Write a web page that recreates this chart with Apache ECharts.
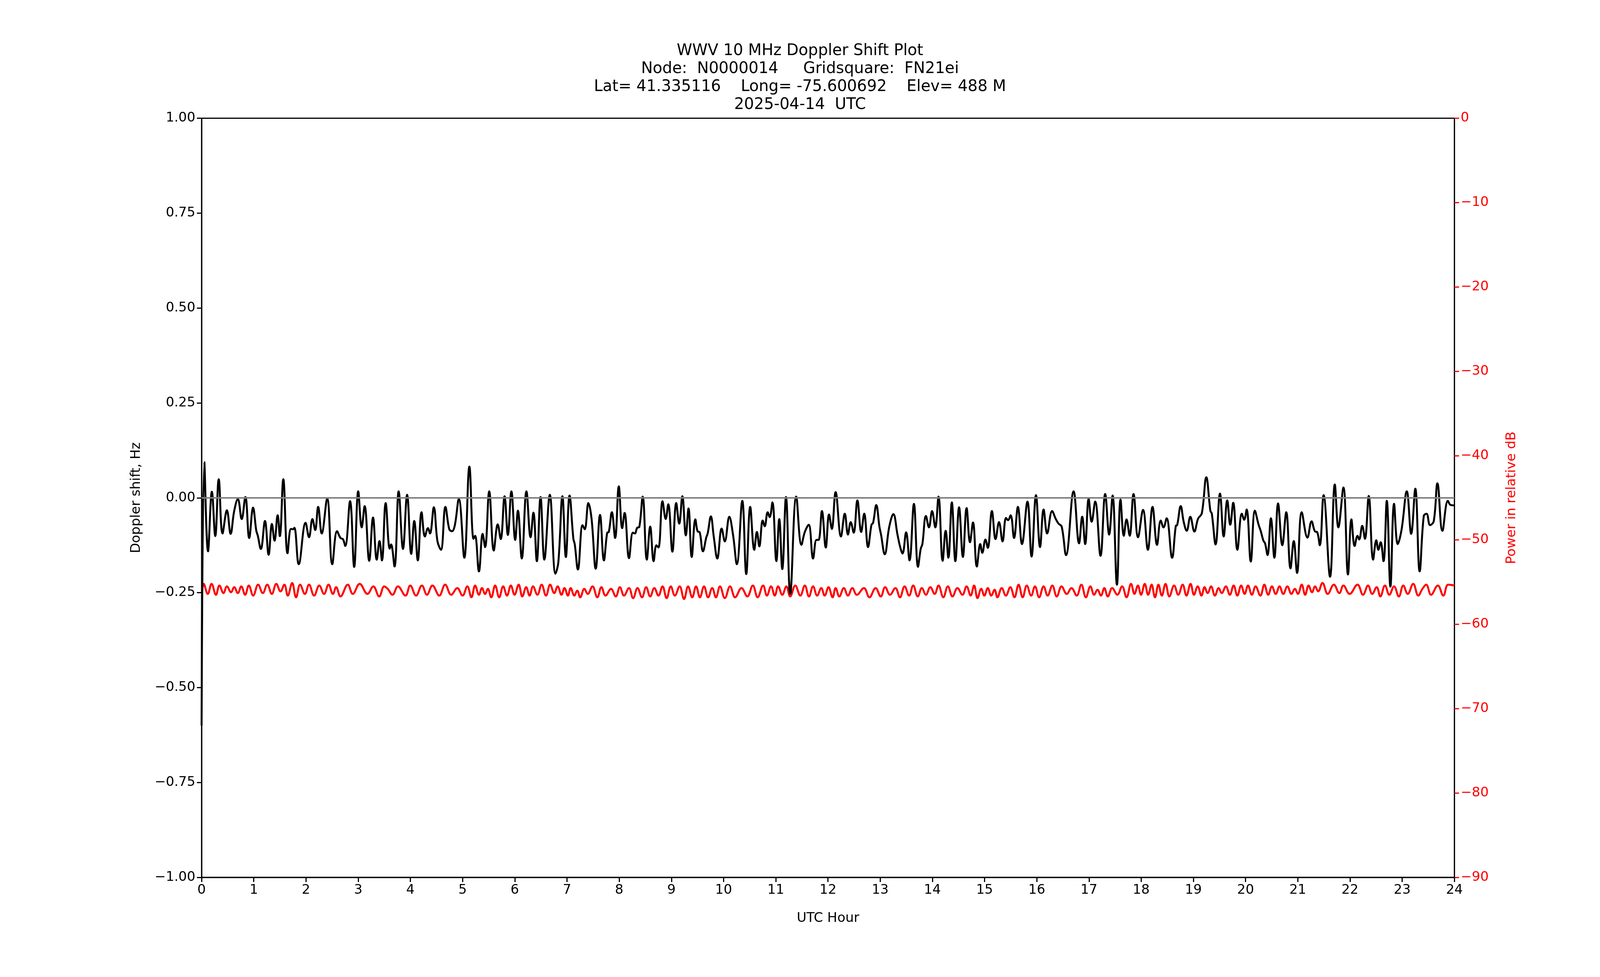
<!DOCTYPE html>
<html>
<head>
<meta charset="utf-8">
<script src="https://cdn.jsdelivr.net/npm/echarts@6/dist/echarts.min.js"></script>
<style>
  html, body { margin: 0; padding: 0; background: #fff; overflow: hidden; }
  #main { width: 100vw; height: 100vh; }
</style>
</head>
<body>
<div id="main"></div>
<script>
// title lines
const titleLines = [
    'WWV 10 MHz Doppler Shift Plot',
    'Node:  N0000014     Gridsquare:  FN21ei',
    'Lat= 41.335116    Long= -75.600692    Elev= 488 M',
    '2025-04-14  UTC'
];

// UTC hour / Doppler shift (Hz)
const dopplerPoints = [
    [0,-0.60],[0.052,0.094],[0.123,-0.141],[0.197,0.016],[0.262,-0.101],[0.328,0.049],[0.401,-0.094],[0.485,-0.033],
    [0.556,-0.095],[0.624,-0.035],[0.695,-0.003],[0.768,-0.056],[0.839,0.002],[0.912,-0.106],[0.986,-0.026],[1.048,-0.087],
    [1.075,-0.099],[1.135,-0.135],[1.214,-0.061],[1.284,-0.150],[1.347,-0.069],[1.397,-0.113],[1.457,-0.046],[1.499,-0.101],
    [1.565,0.049],[1.646,-0.146],[1.712,-0.082],[1.751,-0.083],[1.777,-0.079],[1.861,-0.175],[1.992,-0.066],[2.058,-0.104],
    [2.123,-0.056],[2.176,-0.085],[2.233,-0.024],[2.301,-0.094],[2.406,-0.002],[2.503,-0.175],[2.595,-0.088],[2.661,-0.106],
    [2.708,-0.109],[2.752,-0.127],[2.844,-0.009],[2.923,-0.182],[3.001,0.017],[3.067,-0.078],[3.124,-0.022],[3.211,-0.166],
    [3.284,-0.052],[3.355,-0.163],[3.408,-0.114],[3.455,-0.165],[3.526,-0.014],[3.604,-0.134],[3.630,-0.123],[3.696,-0.181],
    [3.775,0.017],[3.858,-0.135],[3.937,0.008],[4.016,-0.148],
    [4.074,-0.061],[4.142,-0.165],[4.213,-0.038],[4.278,-0.102],[4.336,-0.080],[4.375,-0.094],[4.449,-0.025],[4.519,-0.115],
    [4.585,-0.137],[4.671,-0.024],[4.745,-0.083],[4.797,-0.088],[4.850,-0.073],[4.928,-0.003],[5.033,-0.158],[5.130,0.082],
    [5.209,-0.108],[5.240,-0.100],[5.313,-0.194],[5.384,-0.095],[5.431,-0.130],[5.510,0.017],[5.597,-0.139],[5.673,-0.070],
    [5.730,-0.109],[5.804,0.004],[5.867,-0.098],[5.935,0.017],[6.008,-0.111],[6.060,-0.034],[6.134,-0.160],[6.223,0.017],
    [6.302,-0.104],[6.357,-0.039],[6.422,-0.167],[6.493,0.002],[6.566,-0.163],[6.671,0.008],[6.779,-0.200],[6.834,-0.170],
    [6.912,0.004],[6.978,-0.156],[7.049,0.006],[7.122,-0.108],[7.148,-0.122],[7.209,-0.189],[7.298,-0.072],[7.340,-0.083],
    [7.410,-0.014],[7.471,-0.056],[7.550,-0.187],[7.633,-0.045],[7.707,-0.165],[7.770,-0.092],[7.801,-0.090],[7.859,-0.038],
    [7.922,-0.106],[7.992,0.030],[8.057,-0.080],
    [8.104,-0.040],[8.188,-0.159],[8.261,-0.092],[8.298,-0.094],[8.345,-0.079],[8.385,-0.077],[8.450,0.003],[8.529,-0.163],
    [8.594,-0.076],[8.660,-0.167],[8.712,-0.125],[8.752,-0.131],[8.830,-0.009],[8.891,-0.056],[8.940,-0.017],[9.019,-0.142],
    [9.092,-0.014],[9.150,-0.068],[9.210,0.004],[9.276,-0.099],[9.328,-0.028],[9.389,-0.156],[9.459,-0.057],[9.504,-0.089],
    [9.538,-0.090],[9.604,-0.141],[9.669,-0.104],[9.695,-0.094],[9.756,-0.049],[9.813,-0.104],[9.879,-0.160],[9.963,-0.081],
    [10.023,-0.115],[10.109,-0.050],[10.180,-0.097],[10.254,-0.175],[10.358,-0.008],[10.434,-0.201],[10.510,-0.024],[10.587,-0.137],
    [10.639,-0.090],[10.684,-0.128],[10.749,-0.060],[10.788,-0.075],[10.844,-0.038],[10.883,-0.051],[10.935,-0.012],[11.011,-0.167],
    [11.066,-0.056],[11.124,-0.188],[11.195,0.002],[11.276,-0.253],[11.391,0.003],[11.491,-0.124],[11.556,-0.090],[11.630,-0.071],
    [11.714,-0.160],[11.779,-0.111],[11.819,-0.111],[11.884,-0.035],[11.957,-0.131],[12.020,-0.044],[12.073,-0.082],
    [12.146,0.015],[12.248,-0.102],[12.322,-0.042],[12.382,-0.097],[12.435,-0.064],[12.492,-0.092],[12.563,-0.007],[12.636,-0.090],
    [12.694,-0.042],[12.767,-0.130],[12.833,-0.071],[12.864,-0.066],[12.925,-0.019],[12.985,-0.076],[13.016,-0.097],[13.087,-0.149],
    [13.174,-0.076],[13.252,-0.043],[13.331,-0.097],[13.383,-0.130],[13.428,-0.147],[13.496,-0.091],[13.562,-0.165],[13.646,-0.016],
    [13.724,-0.182],[13.777,-0.134],[13.808,-0.122],[13.876,-0.048],[13.934,-0.078],[13.994,-0.035],[14.055,-0.078],[14.117,0.003],
    [14.196,-0.166],[14.254,-0.087],[14.306,-0.158],[14.372,-0.012],[14.440,-0.167],[14.511,-0.025],[14.584,-0.156],[14.655,-0.027],
    [14.720,-0.117],[14.778,-0.065],[14.851,-0.181],[14.917,-0.122],[14.956,-0.145],[15.016,-0.110],[15.061,-0.132],[15.140,-0.035],
    [15.210,-0.109],[15.276,-0.064],[15.344,-0.115],[15.410,-0.053],[15.449,-0.059],[15.499,-0.046],[15.564,-0.106],[15.638,-0.024],
    [15.716,-0.122],[15.821,-0.010],[15.900,-0.155],[15.984,0.007],[16.062,-0.130],[16.130,-0.031],
    [16.199,-0.094],[16.293,-0.035],[16.364,-0.056],[16.416,-0.068],[16.477,-0.076],[16.560,-0.151],[16.705,0.017],[16.809,-0.120],
    [16.870,-0.050],[16.927,-0.122],[16.993,-0.003],[17.051,-0.063],[17.119,-0.010],[17.221,-0.153],[17.310,0.010],[17.386,-0.097],
    [17.452,0.006],[17.535,-0.229],[17.604,-0.005],[17.667,-0.100],[17.719,-0.057],[17.779,-0.100],[17.853,0.010],[17.939,-0.104],
    [18.036,-0.032],[18.128,-0.137],[18.217,-0.024],[18.303,-0.124],[18.374,-0.060],[18.427,-0.078],[18.487,-0.054],[18.592,-0.158],
    [18.663,-0.074],[18.689,-0.072],[18.757,-0.022],[18.815,-0.064],[18.872,-0.087],[18.941,-0.050],[19.019,-0.089],[19.090,-0.055],
    [19.161,-0.041],[19.247,0.054],[19.326,-0.035],[19.352,-0.041],[19.425,-0.123],[19.509,0.011],[19.580,-0.102],[19.648,-0.007],
    [19.706,-0.071],[19.763,-0.013],[19.842,-0.137],[19.928,-0.042],[19.973,-0.058],[20.020,-0.031],[20.099,-0.168],[20.178,-0.034],
    [20.249,-0.071],[20.289,-0.087],[20.341,-0.113],[20.373,-0.120],[20.420,-0.151],[20.485,-0.054],[20.551,-0.158],[20.622,-0.015],
    [20.703,-0.125],[20.779,-0.038],[20.860,-0.186],[20.923,-0.114],[20.986,-0.198],[21.075,-0.038],[21.185,-0.105],[21.264,-0.062],
    [21.332,-0.089],[21.369,-0.090],[21.421,-0.125],[21.494,0.007],[21.618,-0.208],[21.709,0.035],[21.777,-0.078],[21.874,0.027],
    [21.961,-0.202],[22.027,-0.057],[22.089,-0.127],[22.144,-0.100],[22.176,-0.110],[22.234,-0.074],[22.286,-0.108],[22.359,0.005],
    [22.443,-0.163],[22.504,-0.112],[22.543,-0.137],[22.587,-0.117],[22.642,-0.167],[22.705,-0.008],[22.774,-0.234],[22.844,-0.016],
    [22.915,-0.122],[22.989,-0.083],[23.088,0.017],[23.172,-0.095],[23.251,0.024],[23.334,-0.194],[23.413,-0.048],[23.466,-0.042],
    [23.534,-0.072],[23.604,-0.062],[23.675,0.038],[23.770,-0.087],[23.875,-0.008],[23.927,-0.019],[24.0,-0.020]
];

// UTC hour / power (relative dB)
const powerPoints = [
    [0.01,-56.1],[0.039,-55.2],[0.118,-56.4],[0.191,-55.2],[0.275,-56.5],[0.341,-55.4],[0.419,-56.3],[0.485,-55.5],[0.564,-56.2],
    [0.624,-55.6],[0.695,-56.3],[0.760,-55.5],[0.834,-56.5],[0.904,-55.4],[0.988,-56.6],[1.083,-55.3],[1.172,-56.3],[1.258,-55.3],
    [1.345,-56.4],[1.431,-55.2],[1.512,-56.1],[1.586,-55.3],[1.651,-56.6],[1.735,-55.1],[1.809,-56.8],[1.887,-55.3],[1.979,-56.4],
    [2.058,-55.3],[2.155,-56.6],[2.254,-55.4],[2.346,-56.4],[2.432,-55.3],[2.516,-56.4],[2.577,-55.6],[2.661,-56.7],[2.800,-55.3],
    [2.896,-56.4],[3.028,-55.2],[3.177,-56.4],[3.290,-55.5],[3.402,-56.7],[3.499,-55.5],[3.565,-55.8],[3.657,-56.5],[3.761,-55.5],
    [3.906,-56.6],[3.997,-55.4],
    [4.108,-56.6],[4.220,-55.4],[4.317,-56.5],[4.422,-55.4],[4.553,-56.6],[4.666,-55.3],[4.781,-56.5],[4.899,-55.7],[4.999,-56.6],
    [5.091,-55.5],[5.169,-56.8],[5.240,-55.4],[5.313,-56.5],[5.371,-55.7],[5.431,-56.4],[5.484,-55.8],[5.549,-56.8],[5.623,-55.4],
    [5.701,-56.8],[5.777,-55.5],[5.851,-56.6],[5.924,-55.4],[5.995,-56.5],[6.074,-55.3],[6.144,-56.7],[6.218,-55.6],[6.283,-56.6],
    [6.349,-55.5],[6.433,-56.5],[6.514,-55.3],[6.598,-56.6],[6.677,-55.3],[6.755,-56.3],[6.821,-55.5],[6.894,-56.5],[6.952,-55.7],
    [7.017,-56.6],[7.070,-55.7],[7.140,-56.6],[7.196,-56.0],[7.253,-56.8],[7.332,-55.8],[7.397,-56.4],[7.489,-55.5],[7.581,-56.8],
    [7.659,-55.6],[7.738,-56.6],[7.843,-55.8],[7.935,-56.7],[8.013,-55.6],[8.092,-56.6],
    [8.188,-55.7],[8.267,-56.9],[8.351,-55.7],[8.437,-56.8],[8.516,-55.6],[8.594,-56.7],[8.673,-55.7],[8.752,-56.6],[8.830,-55.5],
    [8.909,-56.9],[8.988,-55.5],[9.066,-56.6],[9.158,-55.5],[9.242,-57.0],[9.320,-55.5],[9.399,-56.8],[9.472,-55.5],[9.546,-56.8],
    [9.625,-55.5],[9.703,-56.8],[9.782,-55.7],[9.853,-56.8],[9.931,-55.5],[10.023,-56.9],[10.123,-55.5],[10.220,-56.8],[10.343,-55.7],
    [10.455,-56.7],[10.560,-55.4],[10.652,-56.8],[10.757,-55.4],[10.830,-56.6],[10.909,-55.5],[10.980,-56.6],[11.045,-55.5],[11.124,-56.5],
    [11.203,-55.5],[11.276,-56.7],[11.373,-55.4],[11.470,-56.6],[11.556,-55.4],[11.635,-56.7],[11.714,-55.5],[11.792,-56.6],[11.871,-55.7],
    [11.936,-56.6],[12.010,-55.6],[12.088,-56.8],
    [12.146,-55.7],[12.217,-56.7],[12.303,-55.7],[12.382,-56.6],[12.466,-55.7],[12.552,-56.5],[12.689,-55.7],[12.794,-56.8],[12.912,-55.7],
    [13.011,-56.7],[13.095,-55.6],[13.187,-56.5],[13.292,-55.7],[13.378,-56.8],[13.467,-55.5],[13.554,-56.6],[13.632,-55.4],[13.719,-56.7],
    [13.798,-55.7],[13.876,-56.5],[13.960,-55.6],[14.044,-56.4],[14.117,-55.4],[14.209,-56.8],[14.296,-55.5],[14.385,-56.7],[14.479,-55.7],
    [14.576,-56.5],[14.655,-55.5],[14.733,-56.6],[14.799,-55.4],[14.864,-56.9],[14.935,-55.8],[14.995,-56.6],[15.061,-55.7],[15.127,-56.6],
    [15.192,-55.9],[15.245,-56.8],[15.328,-55.7],[15.407,-56.6],[15.493,-55.6],[15.572,-56.8],[15.651,-55.3],[15.729,-56.8],[15.808,-55.4],
    [15.892,-56.6],[15.965,-55.5],[16.044,-56.8],[16.130,-55.5],
    [16.207,-56.6],[16.298,-55.4],[16.382,-56.7],[16.474,-55.5],[16.573,-56.4],[16.665,-55.7],[16.765,-56.6],[16.854,-55.3],[16.940,-56.8],
    [17.027,-55.5],[17.098,-56.5],[17.163,-55.9],[17.229,-56.6],[17.294,-55.7],[17.360,-56.7],[17.444,-55.7],[17.543,-56.5],[17.635,-55.5],
    [17.719,-56.8],[17.805,-55.2],[17.871,-56.4],[17.937,-55.4],[17.997,-56.5],[18.068,-55.2],[18.133,-56.5],[18.199,-55.3],[18.264,-56.8],
    [18.330,-55.3],[18.395,-56.6],[18.466,-55.2],[18.539,-56.7],[18.631,-55.4],[18.710,-56.5],[18.794,-55.3],[18.867,-56.6],[18.946,-55.2],
    [19.011,-56.5],[19.082,-55.5],[19.155,-56.6],[19.213,-55.6],[19.273,-56.3],[19.339,-55.5],[19.412,-56.6],[19.483,-55.7],[19.543,-56.3],
    [19.622,-55.5],[19.698,-56.5],[19.771,-55.4],[19.842,-56.6],[19.915,-55.4],[19.981,-56.4],[20.046,-55.4],[20.120,-56.5],[20.191,-55.5],
    [20.283,-56.6],[20.359,-55.3],[20.433,-56.5],[20.504,-55.5],[20.577,-56.4],[20.650,-55.5],[20.721,-56.4],[20.800,-55.5],[20.878,-56.4],
    [20.944,-55.8],[21.002,-56.4],[21.075,-55.3],[21.141,-56.5],[21.206,-55.4],[21.272,-56.2],[21.332,-55.5],[21.390,-56.1],[21.473,-55.1],
    [21.573,-56.4],[21.691,-55.3],[21.796,-56.3],[21.874,-55.4],[21.992,-56.4],[22.144,-55.3],[22.249,-56.5],[22.346,-55.4],[22.425,-56.4],
    [22.511,-55.6],[22.582,-56.7],[22.669,-55.4],[22.753,-56.5],[22.844,-55.5],[22.936,-56.7],[23.020,-55.4],[23.106,-56.4],[23.211,-55.2],
    [23.308,-56.6],[23.387,-55.8],[23.460,-55.3],[23.552,-56.5],[23.683,-55.4],[23.788,-56.6],[23.880,-55.3],[24.0,-55.4]
];

const FONT = 'DejaVu Sans';
const minus = v => String(v).replace('-', '\u2212');

var dom = document.getElementById('main');
var myChart = echarts.init(dom, null, { renderer: 'canvas' });

var option = {
    backgroundColor: '#ffffff',
    animation: false,
    title: {
        text: titleLines.join('\n'),
        left: 'center',
        top: '4.1%',
        textStyle: { fontFamily: FONT, fontSize: 40, fontWeight: 'normal', color: '#000', lineHeight: 46 }
    },
    grid: {
        left: '12.6%', right: '9.1%', top: '12.1%', bottom: '10.2%',
        show: true, borderColor: '#000', borderWidth: 3, backgroundColor: 'transparent'
    },
    xAxis: {
        type: 'value', min: 0, max: 24, interval: 1,
        name: 'UTC Hour', nameLocation: 'middle', nameGap: 88,
        nameTextStyle: { fontFamily: FONT, fontSize: 34, color: '#000' },
        axisLine: { onZero: false, lineStyle: { color: '#000', width: 3 } },
        axisTick: { length: 12, lineStyle: { color: '#000', width: 3 } },
        axisLabel: { fontFamily: FONT, fontSize: 34, color: '#000', margin: 16 },
        splitLine: { show: false }
    },
    yAxis: [
        {
            type: 'value', min: -1, max: 1, interval: 0.25, position: 'left',
            name: 'Doppler shift, Hz', nameLocation: 'middle', nameGap: 150,
            nameTextStyle: { fontFamily: FONT, fontSize: 34, color: '#000' },
            axisLine: { show: true, lineStyle: { color: '#000', width: 3 } },
            axisTick: { show: true, length: 12, lineStyle: { color: '#000', width: 3 } },
            axisLabel: { fontFamily: FONT, fontSize: 34, color: '#000', margin: 16,
                formatter: v => minus(v.toFixed(2)) },
            splitLine: { show: false }
        },
        {
            type: 'value', min: -90, max: 0, interval: 10, position: 'right',
            name: 'Power in relative dB', nameLocation: 'middle', nameGap: 130,
            nameRotate: 90,
            nameTextStyle: { fontFamily: FONT, fontSize: 34, color: '#ff0000' },
            axisLine: { show: true, lineStyle: { color: '#000', width: 3 } },
            axisTick: { show: true, length: 12, lineStyle: { color: '#ff0000', width: 3 } },
            axisLabel: { fontFamily: FONT, fontSize: 34, color: '#ff0000', margin: 16,
                formatter: v => minus(v) },
            splitLine: { show: false }
        }
    ],
    series: [
        {
            type: 'line', yAxisIndex: 0, data: dopplerPoints, showSymbol: false,
            smooth: 0.4, z: 3,
            lineStyle: { color: '#000', width: 5 },
            markLine: {
                silent: true, symbol: 'none', label: { show: false },
                lineStyle: { color: '#808080', width: 4, type: 'solid' },
                data: [{ yAxis: 0 }]
            }
        },
        {
            type: 'line', yAxisIndex: 1, data: powerPoints, showSymbol: false,
            smooth: 0.4, z: 2,
            lineStyle: { color: '#ff0000', width: 5 }
        }
    ]
};

myChart.setOption(option);
window.addEventListener('resize', myChart.resize);
</script>
</body>
</html>
